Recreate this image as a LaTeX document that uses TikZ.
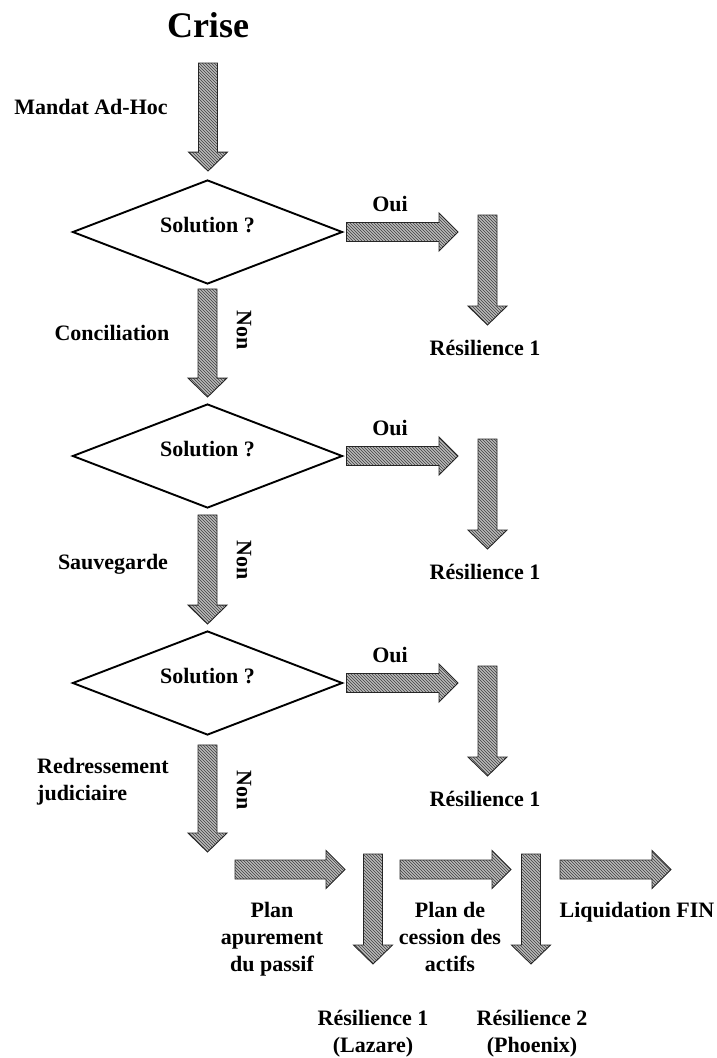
\documentclass[tikz,border=0pt]{standalone}
\usepackage{fontspec}
\setmainfont{Liberation Serif}
\usetikzlibrary{shapes.geometric,patterns,calc}

% block arrows: shaft 19pt, head 39pt wide and 19pt long
\newcommand{\downblock}[2]{%
  \draw[blockarrow] let \p1=(#1), \p2=(#2) in
    (\x1-9.5pt,\y1) -- (\x1+9.5pt,\y1) -- (\x1+9.5pt,\y2+19pt) -- (\x1+19.5pt,\y2+19pt)
    -- (\x1,\y2) -- (\x1-19.5pt,\y2+19pt) -- (\x1-9.5pt,\y2+19pt) -- cycle;}
\newcommand{\rightblock}[2]{%
  \draw[blockarrow] let \p1=(#1), \p2=(#2) in
    (\x1,\y1+9.5pt) -- (\x2-19pt,\y1+9.5pt) -- (\x2-19pt,\y1+19pt) -- (\x2,\y1)
    -- (\x2-19pt,\y1-19pt) -- (\x2-19pt,\y1-9.5pt) -- (\x1,\y1-9.5pt) -- cycle;}

\begin{document}
\begin{tikzpicture}[x=1pt, y=-1pt, font=\fontsize{22}{27}\selectfont\bfseries,
    blockarrow/.style={draw=black!85, line width=0.9pt, preaction={fill=gray!55},
      pattern=north west lines, pattern color=black!75},
    decision/.style={diamond, draw, line width=1.9pt, aspect=2.6, inner sep=0pt,
      minimum width=270pt, minimum height=104pt, text height=8pt, text depth=8pt},
    txt/.style={anchor=base, inner sep=0pt},
    nonlbl/.style={rotate=-90, inner sep=0pt}]
    \useasboundingbox (0,0) rectangle (717,1058);

    % title
    \node[txt, font=\fontsize{36}{40}\selectfont\bfseries] (crise) at (208,37) {Crise};

    % decisions
    \foreach \i/\ypos in {1/232, 2/456, 3/683}{
        \node[decision] (d\i) at (207.5,\ypos) {Solution ?};
        \node[txt] (oui\i) at (390,\ypos-21) {Oui};
        \coordinate (ouitip\i) at (458,\ypos);
        \rightblock{$(d\i.east)+(3,0)$}{ouitip\i}
        \node[txt] (res\i) at (485,\ypos+123) {Résilience 1};
        \coordinate (restop\i) at (487.5,\ypos-17);
        \downblock{restop\i}{$(res\i.base)+(0,-30)$}
    }

    % way down
    \downblock{$(crise.base)+(0,26)$}{$(d1.north)+(0,-8)$}
    \downblock{$(d1.south)+(0,4)$}{$(d2.north)+(0,-6)$}
    \downblock{$(d2.south)+(0,6)$}{$(d3.north)+(0,-6)$}
    \coordinate (rjtip) at (205,852);
    \downblock{$(d3.south)+(0,9)$}{rjtip}

    \foreach \i/\ypos in {1/330, 2/560, 3/790}{
        \node[nonlbl] (non\i) at (244,\ypos) {Non};
    }

    % procedures
    \node[txt] (mandat) at (91,114) {Mandat Ad-Hoc};
    \node[txt] (concil) at (112,340) {Conciliation};
    \node[txt] (sauveg) at (113,569) {Sauvegarde};
    \node[txt, anchor=base west, align=left] (redress) at (37,800) {Redressement\\judiciaire};

    % last row
    \coordinate (h1a) at (235,869.5);
    \coordinate (h1b) at (345,869.5);
    \coordinate (v1a) at (373,854);
    \coordinate (v1b) at (373,964);
    \coordinate (h2a) at (400,869.5);
    \coordinate (h2b) at (511,869.5);
    \coordinate (v2a) at (531,854);
    \coordinate (v2b) at (531,964);
    \coordinate (h3a) at (560,869.5);
    \coordinate (h3b) at (671,869.5);
    \rightblock{h1a}{h1b}
    \downblock{v1a}{v1b}
    \rightblock{h2a}{h2b}
    \downblock{v2a}{v2b}
    \rightblock{h3a}{h3b}

    \node[txt, align=center] (apur) at (272,971) {Plan\\apurement\\du passif};
    \node[txt, align=center] (cession) at (450,971) {Plan de\\cession des\\actifs};
    \node[txt] (liquid) at (637,917) {Liquidation FIN};
    \node[txt, align=center] (lazare) at (373,1052) {Résilience 1\\(Lazare)};
    \node[txt, align=center] (phoenix) at (532,1052) {Résilience 2\\(Phoenix)};
\end{tikzpicture}
\end{document}
